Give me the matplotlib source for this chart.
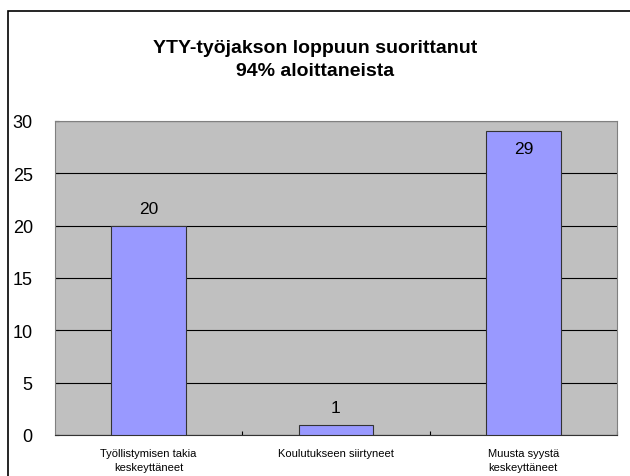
import matplotlib
matplotlib.use("Agg")
import matplotlib.pyplot as plt
from matplotlib.patches import Rectangle
import numpy as np

plt.rcParams["font.family"] = ["Liberation Sans", "DejaVu Sans"]

categories = ["Työllistymisen takia\nkeskeyttäneet", "Koulutukseen siirtyneet", "Muusta syystä\nkeskeyttäneet"]
values = [20, 1, 29]
title = "YTY-työjakson loppuun suorittanut\n94% aloittaneista"

fig = plt.figure(figsize=(6.3, 4.77), dpi=100)
# outer chart frame
fig.patches.append(Rectangle((8 / 630, -0.1), 1.0, 1 - 12 / 477 + 0.1, transform=fig.transFigure,
                             fill=False, edgecolor="black", linewidth=1.2))

ax = fig.add_axes([55 / 630, 1 - 436 / 477, 562 / 630, 314 / 477])
ax.set_facecolor("#C0C0C0")
x = np.arange(len(values))
ax.bar(x, values, width=0.4, color="#9999FF", edgecolor="#333333", linewidth=0.8, zorder=3)
ax.set_xlim(-0.5, 2.5)
ax.set_ylim(0, 30)
ax.set_yticks(range(0, 31, 5))
ax.yaxis.grid(True, color="black", linewidth=0.8, zorder=1)
ax.set_axisbelow(True)
ax.tick_params(axis="y", labelsize=13, length=3, direction="in", pad=16)
ax.set_xticks([0.5, 1.5, 2.5], minor=False)
ax.set_xticklabels([])
ax.tick_params(axis="x", length=3, direction="in")
for i, cat in enumerate(categories):
    ax.text(i, -1.2, cat, ha="center", va="top", fontsize=8, linespacing=1.6)

for i, v in enumerate(values):
    if v >= 28:
        ax.text(i, v - 0.9, str(v), ha="center", va="top", fontsize=12.5, zorder=4)
    else:
        ax.text(i, v + 0.9, str(v), ha="center", va="bottom", fontsize=12.5, zorder=4)

for s in ["top", "right"]:
    ax.spines[s].set_color("#808080")
ax.spines["left"].set_color("#808080")
ax.spines["bottom"].set_color("#333333")

fig.text(0.5, 1 - 60 / 477, title, ha="center", va="center", fontsize=14, fontweight="bold", linespacing=1.45)

fig.savefig("out.png", dpi=100)
